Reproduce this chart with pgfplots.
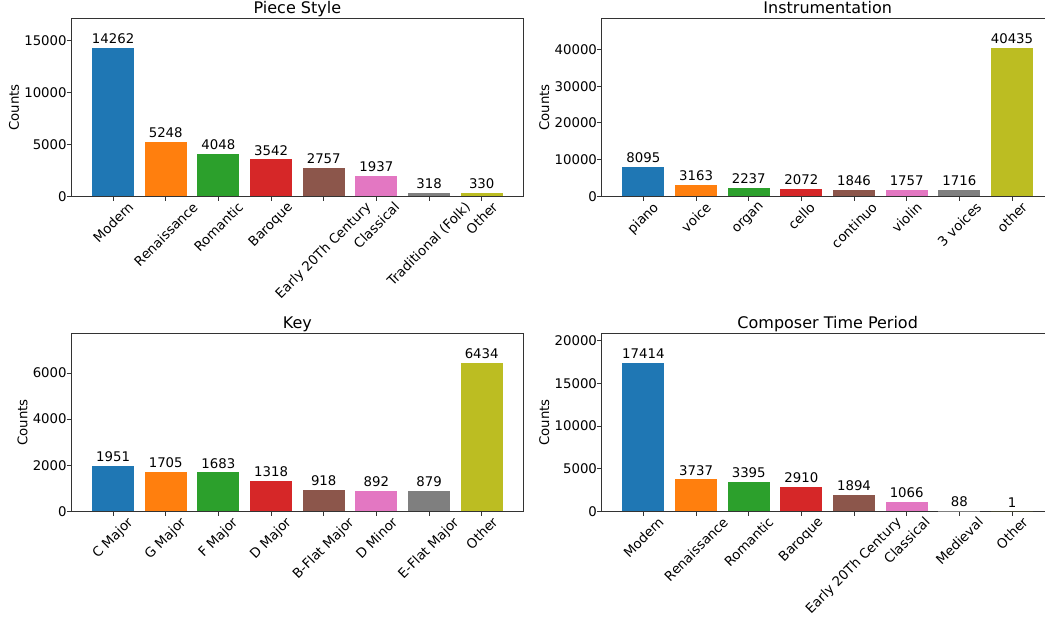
\documentclass[border=0pt]{standalone}
\usepackage{pgfplots}
\pgfplotsset{compat=1.18}
\usepackage{graphicx}
\usepackage{fontspec}
\setmainfont{DejaVu Sans}

\definecolor{c0}{HTML}{1F77B4}
\definecolor{c1}{HTML}{FF7F0E}
\definecolor{c2}{HTML}{2CA02C}
\definecolor{c3}{HTML}{D62728}
\definecolor{c4}{HTML}{8C564B}
\definecolor{c5}{HTML}{E377C2}
\definecolor{c6}{HTML}{7F7F7F}
\definecolor{c7}{HTML}{BCBD22}

\newcommand\rl[1]{\rotatebox{45}{#1}}
% one bar per category, each in its own colour
\newcommand\bars[8]{%
  \addplot[fill=c0] coordinates {(0,#1)};
  \addplot[fill=c1] coordinates {(1,#2)};
  \addplot[fill=c2] coordinates {(2,#3)};
  \addplot[fill=c3] coordinates {(3,#4)};
  \addplot[fill=c4] coordinates {(4,#5)};
  \addplot[fill=c5] coordinates {(5,#6)};
  \addplot[fill=c6] coordinates {(6,#7)};
  \addplot[fill=c7] coordinates {(7,#8)};
}

\pgfplotsset{
  panel/.style={
    ybar, scale only axis, width=451.8pt, height=178pt,
    anchor=south west,
    xmin=-0.79, xmax=7.79, ymin=0,
    xtick={0,...,7},
    tick align=outside, major tick length=4.67pt,
    xtick pos=left, ytick pos=left,
    axis line style={black!80, line width=0.9pt},
    tick style={black!80, line width=0.9pt},
    scaled y ticks=false,
    /pgf/number format/1000 sep={},
    /pgf/number format/assume math mode=true,
    yticklabel style={inner sep=0pt},
    xticklabel style={anchor=north, inner sep=0pt},
    ylabel={Counts},
    ylabel style={anchor=base, inner sep=0pt},
    ylabel shift=5.5pt,
    title style={at={(0.5,1)}, anchor=base, yshift=-1.5pt, font=\fontsize{16}{19}\selectfont},
    every axis plot/.append style={bar width=0.8, bar shift=0pt, draw=none},
    nodes near coords,
    every node near coord/.append style={inner sep=0pt, yshift=4pt, text=black},
  }
}

\begin{document}
\begin{tikzpicture}[font=\fontsize{13.3}{16}\selectfont]
\begin{axis}[panel, at={(71.5pt,424.7pt)}, title={Piece Style},
  ymax=17114, ytick={0,5000,10000,15000},
  xticklabels={\rl{Modern},\rl{Renaissance},\rl{Romantic},\rl{Baroque},\rl{Early 20Th Century},\rl{Classical},\rl{Traditional (Folk)},\rl{Other}}]
  \bars{14262}{5248}{4048}{3542}{2757}{1937}{318}{330}
\end{axis}
\begin{axis}[panel, at={(601.8pt,424.7pt)}, title={Instrumentation},
  ymax=48522, ytick={0,10000,20000,30000,40000},
  xticklabels={\rl{piano},\rl{voice},\rl{organ},\rl{cello},\rl{continuo},\rl{violin},\rl{3 voices},\rl{other}}]
  \bars{8095}{3163}{2237}{2072}{1846}{1757}{1716}{40435}
\end{axis}
\begin{axis}[panel, at={(71.5pt,109.7pt)}, title={Key},
  ymax=7721, ytick={0,2000,4000,6000},
  xticklabels={\rl{C Major},\rl{G Major},\rl{F Major},\rl{D Major},\rl{B-Flat Major},\rl{D Minor},\rl{E-Flat Major},\rl{Other}}]
  \bars{1951}{1705}{1683}{1318}{918}{892}{879}{6434}
\end{axis}
\begin{axis}[panel, at={(601.8pt,109.7pt)}, title={Composer Time Period},
  ymax=20897, ytick={0,5000,10000,15000,20000},
  xticklabels={\rl{Modern},\rl{Renaissance},\rl{Romantic},\rl{Baroque},\rl{Early 20Th Century},\rl{Classical},\rl{Medieval},\rl{Other}}]
  \bars{17414}{3737}{3395}{2910}{1894}{1066}{88}{1}
\end{axis}
\pgfresetboundingbox
\path[use as bounding box] (0,0) rectangle (1045pt,621pt);
\end{tikzpicture}
\end{document}
